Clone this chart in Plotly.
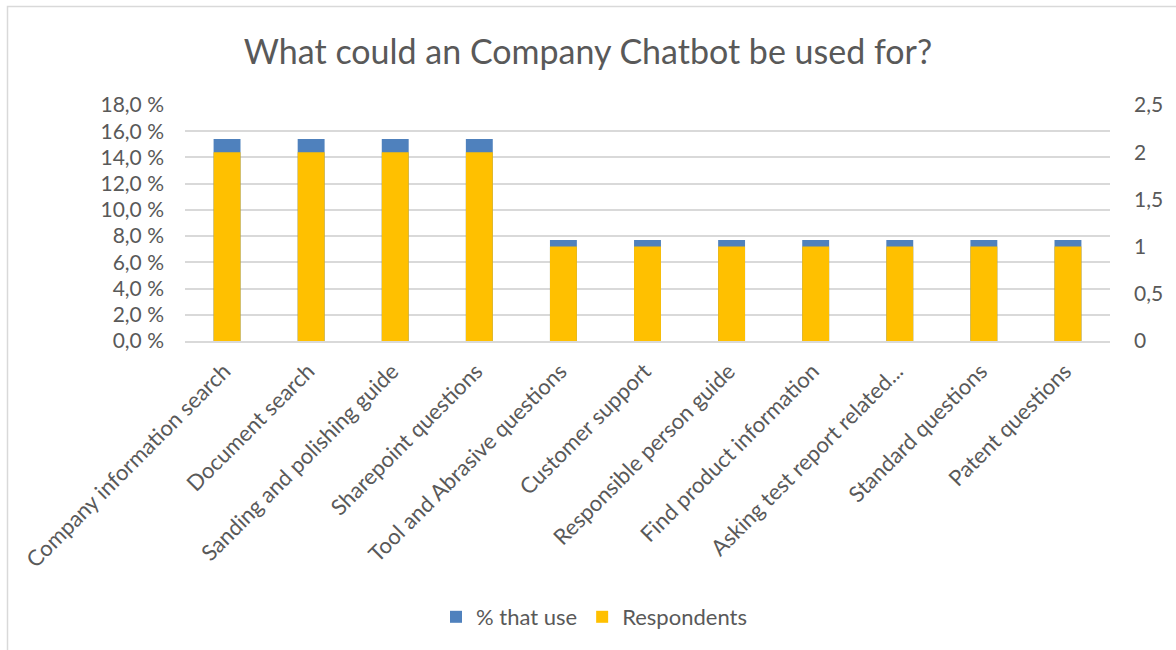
import plotly.graph_objects as go

# Survey: what a company chatbot could be used for
categories = [
    "Company information search",
    "Document search",
    "Sanding and polishing guide",
    "Sharepoint questions",
    "Tool and Abrasive questions",
    "Customer support",
    "Responsible person guide",
    "Find product information",
    "Asking test report related...",
    "Standard questions",
    "Patent questions",
]
pct_that_use = [15.4, 15.4, 15.4, 15.4, 7.7, 7.7, 7.7, 7.7, 7.7, 7.7, 7.7]
respondents = [2, 2, 2, 2, 1, 1, 1, 1, 1, 1, 1]

left_ticks = [0, 2, 4, 6, 8, 10, 12, 14, 16, 18]
left_tick_text = ["0,0 %", "2,0 %", "4,0 %", "6,0 %", "8,0 %", "10,0 %",
                  "12,0 %", "14,0 %", "16,0 %", "18,0 %"]
right_ticks = [0, 0.5, 1, 1.5, 2, 2.5]
right_tick_text = ["0", "0,5", "1", "1,5", "2", "2,5"]

BLUE = "#4F81BD"
YELLOW = "#FFC000"
TEXT = "#595959"
GRID = "#D9D9D9"
FONT = "Lato, Open Sans, sans-serif"

fig = go.Figure()
fig.add_trace(go.Bar(
    x=categories, y=pct_that_use, name="% that use",
    marker=dict(color=BLUE, line=dict(width=0)),
    width=0.32, yaxis="y", offsetgroup="a",
))
fig.add_trace(go.Bar(
    x=categories, y=respondents, name="Respondents",
    marker=dict(color=YELLOW, line=dict(width=0)),
    width=0.32, yaxis="y2", offsetgroup="a",
))

# plot area in pixels: x 185..1110, y 105..341
L, R, T, B = 185, 1110, 105, 341
W, H = R - L, B - T
def px_x(p):
    return (p - L) / W
def px_y(p):
    return (B - p) / H

fig.update_layout(
    width=1176, height=650,
    margin=dict(l=L, r=1176 - R, t=T, b=650 - B),
    paper_bgcolor="white", plot_bgcolor="white",
    barmode="overlay",
    font=dict(family=FONT, color=TEXT, size=20),
    title=dict(text="What could an Company Chatbot be used for?",
               x=0.5, xanchor="center", y=1 - 52 / 650, yanchor="middle",
               font=dict(size=34, color=TEXT, family=FONT)),
    xaxis=dict(
        tickangle=-45, tickfont=dict(size=22, color=TEXT),
        showgrid=False, showline=True, linecolor=GRID, linewidth=1.5,
        ticks="", automargin=False,
        ticklabelshift=-3, ticklabelstandoff=7,
    ),
    yaxis=dict(
        range=[0, 18], tickvals=left_ticks, ticktext=left_tick_text,
        showgrid=True, gridcolor=GRID, gridwidth=1.5, zeroline=False,
        tickfont=dict(size=21, color=TEXT), ticks="", automargin=False,
        ticklabelstandoff=20,
    ),
    yaxis2=dict(
        range=[0, 2.5], tickvals=right_ticks, ticktext=right_tick_text,
        overlaying="y", side="right", showgrid=False, zeroline=False,
        tickfont=dict(size=21, color=TEXT), ticks="", automargin=False,
        ticklabelstandoff=23,
    ),
    legend=dict(
        orientation="h", x=px_x(594), xanchor="center",
        y=px_y(617), yanchor="middle",
        font=dict(size=22, color=TEXT), traceorder="normal",
        itemwidth=30,
    ),
    shapes=[dict(
        type="rect", xref="paper", yref="paper",
        x0=px_x(7.5), x1=px_x(1200), y0=px_y(700), y1=px_y(6.5),
        line=dict(color=GRID, width=1.5), fillcolor="rgba(0,0,0,0)",
        layer="below",
    )],
)

fig.write_html("out.html")
